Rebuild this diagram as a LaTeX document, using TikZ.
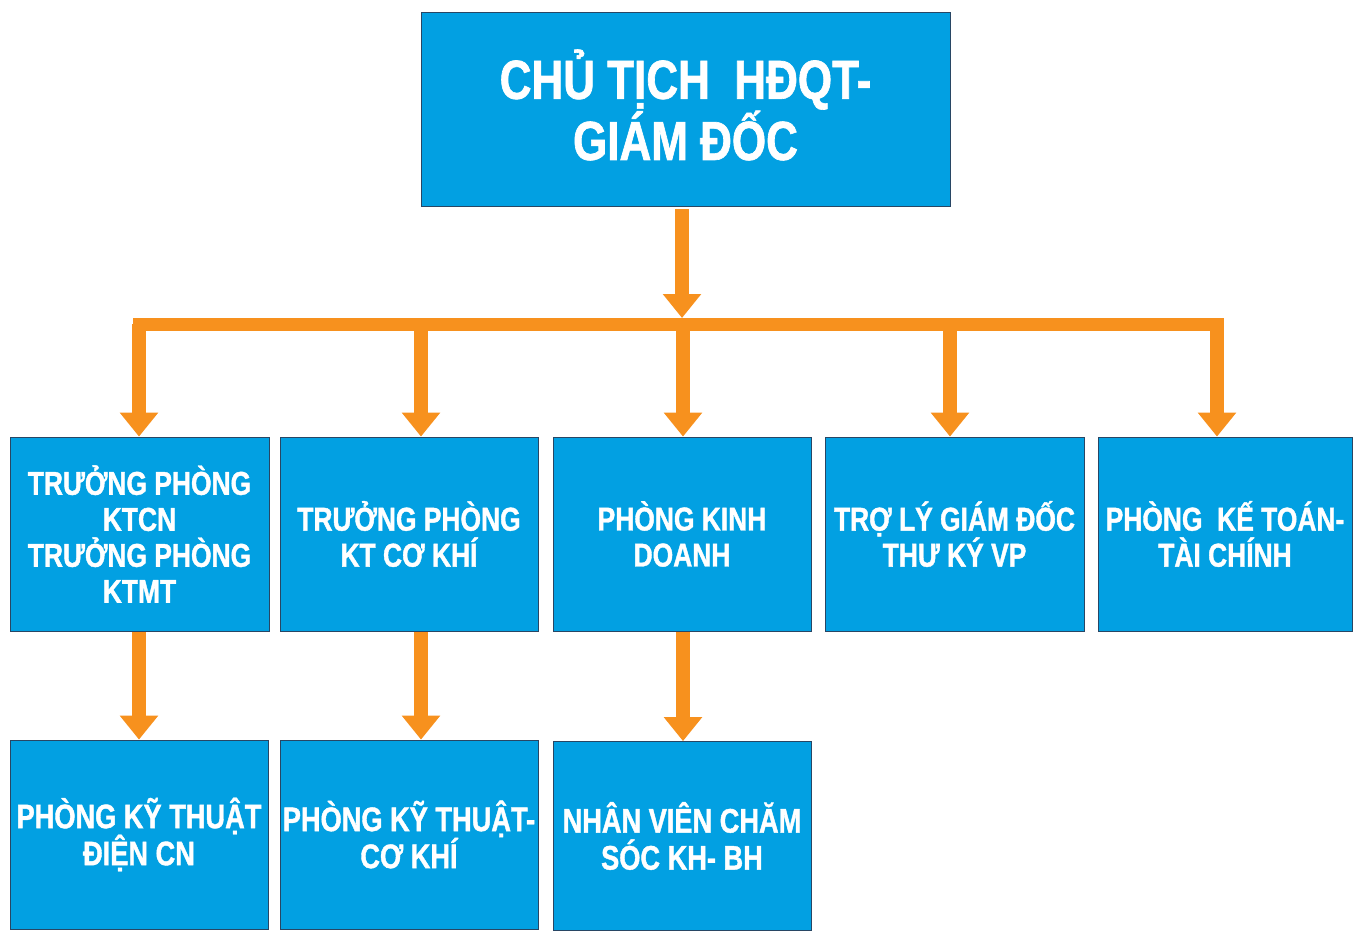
\documentclass[tikz,border=0pt]{standalone}
\usepackage{fontspec}
\setmainfont{Liberation Sans}[FakeStretch=0.8, BoldFeatures={FakeBold=1.2}]
\usetikzlibrary{arrows.meta}
\definecolor{boxblue}{RGB}{2,160,226}
\definecolor{boxedge}{RGB}{40,70,100}
\definecolor{conorange}{RGB}{247,145,30}
\begin{document}
\begin{tikzpicture}[x=1pt,y=-1pt,
  orgbox/.style={rectangle, fill=boxblue, draw=boxedge, line width=0.8pt, inner sep=0pt,
    text=white, align=center, font=\bfseries\fontsize{33}{36}\selectfont},
  lowbox/.style={orgbox, font=\bfseries\fontsize{34}{37}\selectfont},
  conn/.style={draw=conorange, line width=14pt, -{Triangle[width=37pt,length=24pt]}},
  barline/.style={draw=conorange, line width=13pt, line cap=rect}]
\useasboundingbox (0,0) rectangle (1353,930);

% top
\node[orgbox, minimum width=529pt, minimum height=194pt] (top) at (685.5,109) {};
\node[inner sep=0pt, text=white, align=center, font=\bfseries\fontsize{55}{56}\selectfont]
  (toptext) at ([yshift=4pt]top.center) {CHỦ TỊCH\ \ HĐQT-\\GIÁM ĐỐC};

% level 2
\node[orgbox, minimum width=259pt, minimum height=194pt] (b1) at (139.5,534) {TRƯỞNG PHÒNG\\KTCN\\TRƯỞNG PHÒNG\\KTMT};
\node[orgbox, minimum width=258pt, minimum height=194pt] (b2) at (409,534) {TRƯỞNG PHÒNG\\KT CƠ KHÍ};
\node[orgbox, minimum width=258pt, minimum height=194pt] (b3) at (682,534) {PHÒNG KINH\\DOANH};
\node[orgbox, minimum width=259pt, minimum height=194pt] (b4) at (954.5,534) {TRỢ LÝ GIÁM ĐỐC\\THƯ KÝ VP};
\node[orgbox, minimum width=254pt, minimum height=194pt] (b5) at (1225,534) {PHÒNG\ \ KẾ TOÁN-\\TÀI CHÍNH};

% level 3
\node[lowbox, minimum width=258pt, minimum height=189pt] (c1) at (139,834.5) {PHÒNG KỸ THUẬT\\ĐIỆN CN};
\node[lowbox, minimum width=258pt, minimum height=189pt] (c2) at (409,834.5) {PHÒNG KỸ THUẬT-\\CƠ KHÍ};
\node[lowbox, minimum width=258pt, minimum height=189pt] (c3) at (682,836) {NHÂN\ VIÊN\ CHĂM\\SÓC KH- BH};

% junction coordinates on the bar
\coordinate (j) at (682,318);
\coordinate (d1) at (139,324);
\coordinate (d2) at (421,324);
\coordinate (d3) at (683,324);
\coordinate (d4) at (950,324);
\coordinate (d5) at (1217,324);

% bar
\draw[barline] (d1) -- (d5);

% top stem
\draw[conn] ([yshift=-3pt]top.south -| j) -- (j);

% drops
\draw[conn] (d1) -- (d1 |- b1.north);
\draw[conn] (d2) -- (d2 |- b2.north);
\draw[conn] (d3) -- (d3 |- b3.north);
\draw[conn] (d4) -- (d4 |- b4.north);
\draw[conn] (d5) -- (d5 |- b5.north);

% level 2 to level 3
\draw[conn] ([yshift=-1pt]b1.south -| d1) -- (d1 |- c1.north);
\draw[conn] ([yshift=-1pt]b2.south -| d2) -- (d2 |- c2.north);
\draw[conn] ([yshift=-1pt]b3.south -| d3) -- (d3 |- c3.north);
\end{tikzpicture}
\end{document}
